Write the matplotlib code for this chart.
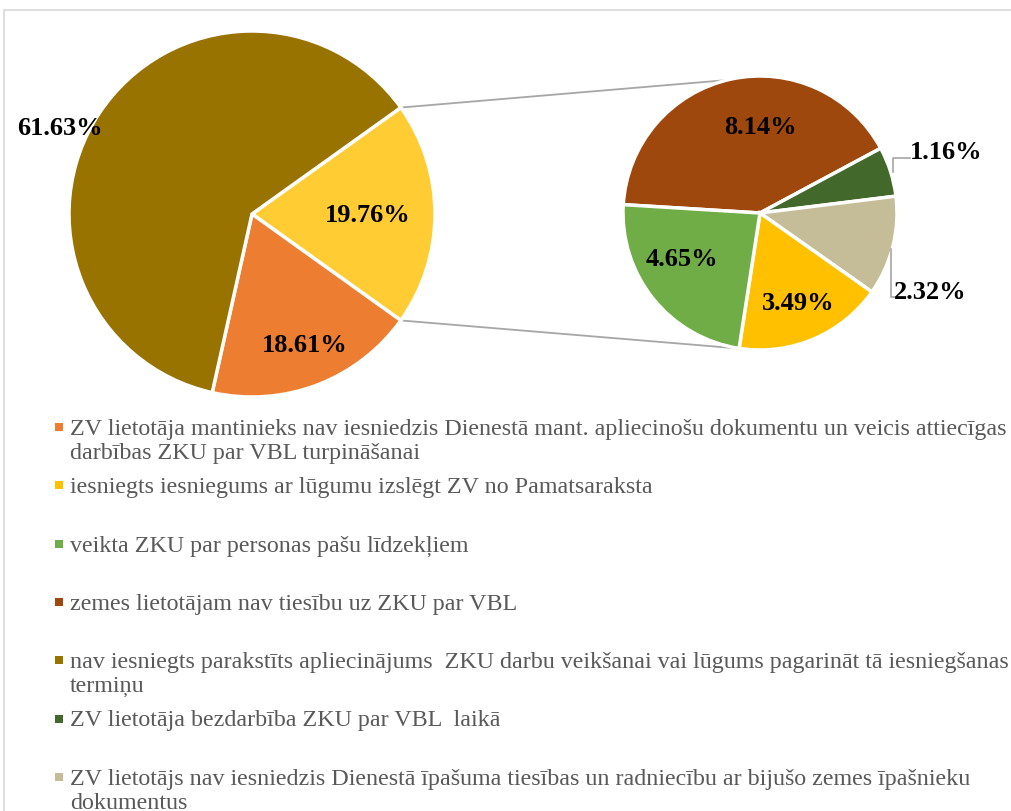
import numpy as np
import matplotlib.pyplot as plt
from matplotlib.patches import Rectangle

W, H = 1011, 812

labels = [
    "ZV lietotāja mantinieks nav iesniedzis Dienestā mant. apliecinošu dokumentu un veicis attiecīgas\ndarbības ZKU par VBL turpināšanai",
    "iesniegts iesniegums ar lūgumu izslēgt ZV no Pamatsaraksta",
    "veikta ZKU par personas pašu līdzekļiem",
    "zemes lietotājam nav tiesību uz ZKU par VBL",
    "nav iesniegts parakstīts apliecinājums  ZKU darbu veikšanai vai lūgums pagarināt tā iesniegšanas\ntermiņu",
    "ZV lietotāja bezdarbība ZKU par VBL  laikā",
    "ZV lietotājs nav iesniedzis Dienestā īpašuma tiesības un radniecību ar bijušo zemes īpašnieku\ndokumentus",
]
values = [18.61, 3.49, 4.65, 8.14, 61.63, 1.16, 2.32]
colors = ['#ED7D31', '#FFC000', '#70AD47', '#9E480E', '#997300', '#43682B', '#C4BD97']
other_color = '#FFCD33'

# main pie: other, orange, olive (clockwise)
main_idx = [0, 4]
sec_idx = [3, 5, 6, 1, 2]   # brown, dark green, tan, gold, green (clockwise)

other_val = sum(values[i] for i in sec_idx)
main_vals = [other_val] + [values[i] for i in main_idx]
main_cols = [other_color] + [colors[i] for i in main_idx]
sec_vals = [values[i] for i in sec_idx]
sec_cols = [colors[i] for i in sec_idx]

plt.rcParams['font.family'] = ['Liberation Serif', 'DejaVu Serif']

fig = plt.figure(figsize=(W / 100, H / 100), dpi=100)
ax = fig.add_axes([0, 0, 1, 1])

def Y(y):
    return H - y

c1, r1 = (252, Y(215)), 183
c2, r2 = (760, Y(214)), 137

start1 = other_val / 100 * 360 / 2
w1, _ = ax.pie(main_vals, colors=main_cols, startangle=start1, counterclock=False,
               center=c1, radius=r1, wedgeprops=dict(edgecolor='white', linewidth=2.5))
w2, _ = ax.pie(sec_vals, colors=sec_cols, startangle=176.5, counterclock=False,
               center=c2, radius=r2, wedgeprops=dict(edgecolor='white', linewidth=2.5))

# connector lines
a_top, a_bot = np.deg2rad(start1), np.deg2rad(-start1)
p1 = (c1[0] + r1 * np.cos(a_top), c1[1] + r1 * np.sin(a_top))
p2 = (c1[0] + r1 * np.cos(a_bot), c1[1] + r1 * np.sin(a_bot))
q1 = (c2[0] + r2 * np.cos(np.deg2rad(104)), c2[1] + r2 * np.sin(np.deg2rad(104)))
q2 = (c2[0] + r2 * np.cos(np.deg2rad(-98)), c2[1] + r2 * np.sin(np.deg2rad(-98)))
for p, q in [(p1, q1), (p2, q2)]:
    ax.plot([p[0], q[0]], [p[1], q[1]], color='#A6A6A6', lw=1.3, zorder=0)

# data labels (angle in degrees, distance as fraction of radius)
main_lab_pos = [(0, 0.63), (-68, 0.77), (155.6, 1.15)]
sec_lab_pos = [(90, 0.635), (18.4, 1.43), (-24.8, 1.37), (-67, 0.71), (210.5, 0.66)]
lab_kw = dict(fontsize=19, fontweight='bold', ha='center', va='center', color='black')
for v, (ang, d) in zip(main_vals, main_lab_pos):
    a = np.deg2rad(ang)
    ax.text(c1[0] + d * r1 * np.cos(a), c1[1] + d * r1 * np.sin(a), f"{v:.2f}%", **lab_kw)
for v, (ang, d) in zip(sec_vals, sec_lab_pos):
    a = np.deg2rad(ang)
    ax.text(c2[0] + d * r2 * np.cos(a), c2[1] + d * r2 * np.sin(a), f"{v:.2f}%", **lab_kw)

# leader lines for small slices
ax.plot([893, 893, 910], [Y(173), Y(159), Y(159)], color='#A6A6A6', lw=1.2)
ax.plot([891, 891, 895], [Y(250), Y(298), Y(298)], color='#A6A6A6', lw=1.2)

# legend
for i, (lab, col) in enumerate(zip(labels, colors)):
    base = 435 + i * 58.3
    ax.add_patch(Rectangle((55, Y(base - 3)), 8, 8, color=col, lw=0))
    for j, line in enumerate(lab.split('\n')):
        ax.text(70, Y(base + j * 24), line, fontsize=17.3, color='#595959',
                ha='left', va='baseline')

# chart border
ax.add_patch(Rectangle((4, Y(H + 10)), W + 10, H - 1, fill=False, edgecolor='#D9D9D9', lw=1.2))

ax.set_xlim(0, W)
ax.set_ylim(0, H)
ax.set_aspect('equal')
ax.axis('off')

fig.savefig('out.png', dpi=100)
